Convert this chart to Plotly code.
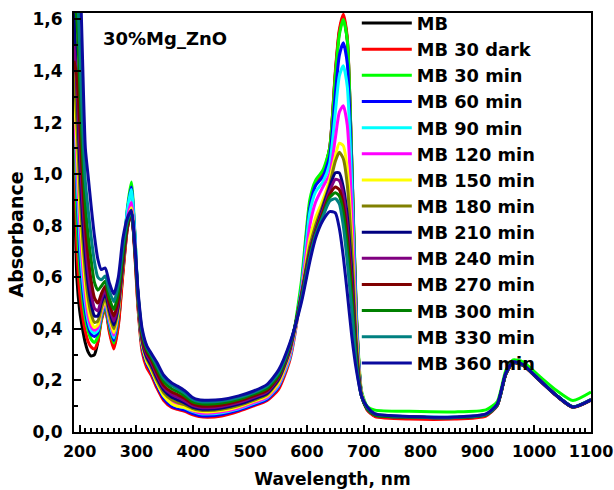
import plotly.graph_objects as go

# Wavelength grid (nm) shared by every spectrum
wavelength = [190, 195, 200, 205, 210, 215, 220, 226, 232, 238,
              245, 252, 260, 268, 276, 284, 291, 297, 303, 310,
              318, 326, 336, 348, 362, 372, 385, 398, 410, 425,
              450, 480, 505, 530, 550, 570, 590, 605, 615, 628,
              640, 650, 657, 664, 671, 679, 687, 696, 706, 720,
              780, 860, 915, 935, 950, 963, 980, 1010, 1040, 1068, 1100]

# Absorbance spectra of methylene blue over 30%Mg_ZnO
mb = [1.05, 0.60, 0.47, 0.40, 0.345, 0.31, 0.295, 0.30, 0.35, 0.44,
      0.48, 0.40, 0.33, 0.42, 0.62, 0.79, 0.85, 0.70, 0.48, 0.33,
      0.27, 0.24, 0.19, 0.14, 0.11, 0.10, 0.092, 0.08, 0.072, 0.07,
      0.075, 0.09, 0.11, 0.135, 0.18, 0.30, 0.56, 0.88, 0.96, 1.0,
      1.10, 1.39, 1.55, 1.61, 1.52, 1.04, 0.45, 0.15, 0.088, 0.062,
      0.057, 0.055, 0.065, 0.104, 0.224, 0.269, 0.259, 0.199, 0.139, 0.096, 0.124]
mb_30_dark = [1.25, 0.72, 0.54, 0.45, 0.39, 0.35, 0.33, 0.322, 0.35, 0.43,
              0.48, 0.39, 0.322, 0.41, 0.61, 0.79, 0.86, 0.69, 0.47, 0.31,
              0.25, 0.22, 0.17, 0.122, 0.095, 0.088, 0.08, 0.068, 0.06, 0.057,
              0.062, 0.08, 0.10, 0.122, 0.165, 0.28, 0.55, 0.88, 0.96, 1.0,
              1.10, 1.40, 1.56, 1.62, 1.53, 1.04, 0.45, 0.15, 0.085, 0.06,
              0.050, 0.050, 0.062, 0.102, 0.222, 0.268, 0.258, 0.198, 0.138, 0.095, 0.123]
mb_30_min = [1.55, 0.85, 0.64, 0.52, 0.44, 0.39, 0.36, 0.347, 0.37, 0.44,
             0.49, 0.41, 0.345, 0.45, 0.66, 0.87, 0.97, 0.78, 0.50, 0.33,
             0.27, 0.235, 0.185, 0.135, 0.105, 0.098, 0.09, 0.078, 0.07, 0.068,
             0.072, 0.088, 0.108, 0.13, 0.19, 0.31, 0.58, 0.90, 0.975, 1.015,
             1.10, 1.38, 1.54, 1.60, 1.52, 1.05, 0.47, 0.16, 0.10, 0.085,
             0.080, 0.078, 0.086, 0.118, 0.238, 0.280, 0.272, 0.215, 0.160, 0.122, 0.155]
mb_60_min = [1.5, 0.95, 0.70, 0.56, 0.47, 0.41, 0.38, 0.37, 0.385, 0.45,
             0.495, 0.42, 0.355, 0.46, 0.67, 0.86, 0.95, 0.77, 0.50, 0.33,
             0.265, 0.232, 0.18, 0.13, 0.10, 0.092, 0.085, 0.072, 0.064, 0.062,
             0.068, 0.085, 0.104, 0.127, 0.175, 0.29, 0.55, 0.87, 0.955, 0.99,
             1.07, 1.31, 1.46, 1.51, 1.43, 1.0, 0.44, 0.15, 0.09, 0.065,
             0.058, 0.056, 0.066, 0.105, 0.225, 0.270, 0.260, 0.200, 0.140, 0.097, 0.125]
mb_90_min = [1.37, 1.0, 0.76, 0.60, 0.50, 0.43, 0.395, 0.383, 0.395, 0.455,
             0.50, 0.43, 0.365, 0.47, 0.67, 0.86, 0.94, 0.77, 0.51, 0.34,
             0.275, 0.24, 0.19, 0.14, 0.11, 0.10, 0.093, 0.08, 0.072, 0.07,
             0.075, 0.09, 0.11, 0.132, 0.18, 0.29, 0.55, 0.85, 0.93, 0.97,
             1.04, 1.24, 1.38, 1.42, 1.34, 0.95, 0.42, 0.15, 0.09, 0.066,
             0.060, 0.058, 0.068, 0.106, 0.226, 0.271, 0.261, 0.202, 0.142, 0.099, 0.127]
mb_120_min = [1.3, 1.05, 0.82, 0.65, 0.53, 0.45, 0.41, 0.395, 0.405, 0.46,
              0.505, 0.44, 0.375, 0.47, 0.65, 0.83, 0.89, 0.74, 0.51, 0.345,
              0.28, 0.245, 0.195, 0.145, 0.115, 0.105, 0.097, 0.083, 0.075, 0.073,
              0.078, 0.093, 0.113, 0.135, 0.185, 0.30, 0.54, 0.80, 0.89, 0.95,
              1.0, 1.14, 1.24, 1.265, 1.19, 0.86, 0.40, 0.15, 0.09, 0.066,
              0.058, 0.056, 0.066, 0.105, 0.225, 0.270, 0.260, 0.200, 0.140, 0.097, 0.125]
mb_150_min = [1.35, 1.12, 0.88, 0.70, 0.57, 0.48, 0.43, 0.405, 0.415, 0.47,
              0.51, 0.45, 0.385, 0.47, 0.64, 0.81, 0.87, 0.72, 0.50, 0.34,
              0.275, 0.24, 0.19, 0.14, 0.11, 0.10, 0.095, 0.085, 0.08, 0.078,
              0.083, 0.098, 0.118, 0.14, 0.19, 0.31, 0.53, 0.75, 0.83, 0.90,
              0.98, 1.07, 1.12, 1.11, 1.02, 0.75, 0.37, 0.15, 0.09, 0.066,
              0.058, 0.056, 0.066, 0.105, 0.225, 0.270, 0.260, 0.200, 0.140, 0.097, 0.125]
mb_180_min = [1.4, 1.2, 0.95, 0.76, 0.62, 0.52, 0.46, 0.425, 0.43, 0.48,
              0.52, 0.46, 0.40, 0.48, 0.64, 0.80, 0.85, 0.71, 0.50, 0.35,
              0.285, 0.25, 0.20, 0.152, 0.125, 0.115, 0.105, 0.092, 0.085, 0.083,
              0.088, 0.103, 0.122, 0.145, 0.20, 0.315, 0.53, 0.72, 0.80, 0.88,
              0.96, 1.05, 1.085, 1.06, 0.96, 0.70, 0.35, 0.145, 0.09, 0.066,
              0.058, 0.056, 0.066, 0.105, 0.225, 0.270, 0.260, 0.200, 0.140, 0.097, 0.125]
mb_210_min = [1.65, 1.35, 1.05, 0.83, 0.68, 0.57, 0.50, 0.45, 0.45, 0.50,
              0.535, 0.475, 0.415, 0.49, 0.65, 0.80, 0.85, 0.71, 0.51, 0.355,
              0.29, 0.26, 0.21, 0.163, 0.135, 0.125, 0.112, 0.097, 0.09, 0.088,
              0.093, 0.108, 0.127, 0.15, 0.205, 0.32, 0.53, 0.70, 0.78, 0.87,
              0.95, 1.005, 1.005, 0.95, 0.84, 0.62, 0.32, 0.14, 0.09, 0.066,
              0.058, 0.056, 0.066, 0.105, 0.225, 0.270, 0.260, 0.200, 0.140, 0.097, 0.125]
mb_240_min = [1.5, 1.35, 1.12, 0.90, 0.74, 0.62, 0.54, 0.48, 0.47, 0.515,
              0.55, 0.49, 0.43, 0.50, 0.66, 0.80, 0.85, 0.715, 0.515, 0.36,
              0.30, 0.27, 0.22, 0.172, 0.145, 0.135, 0.12, 0.103, 0.096, 0.094,
              0.099, 0.114, 0.133, 0.156, 0.21, 0.325, 0.525, 0.695, 0.775, 0.86,
              0.935, 0.98, 0.975, 0.92, 0.80, 0.58, 0.30, 0.14, 0.09, 0.066,
              0.058, 0.056, 0.066, 0.105, 0.225, 0.270, 0.260, 0.200, 0.140, 0.097, 0.125]
mb_270_min = [1.44, 1.38, 1.2, 0.97, 0.80, 0.68, 0.59, 0.52, 0.50, 0.535,
              0.565, 0.50, 0.45, 0.515, 0.67, 0.80, 0.85, 0.715, 0.52, 0.37,
              0.31, 0.28, 0.23, 0.18, 0.155, 0.145, 0.13, 0.11, 0.102, 0.10,
              0.105, 0.12, 0.139, 0.162, 0.215, 0.33, 0.52, 0.69, 0.77, 0.85,
              0.92, 0.95, 0.94, 0.88, 0.76, 0.55, 0.29, 0.14, 0.09, 0.066,
              0.058, 0.056, 0.066, 0.105, 0.225, 0.270, 0.260, 0.200, 0.140, 0.097, 0.125]
mb_300_min = [1.7, 1.6, 1.35, 1.08, 0.88, 0.76, 0.67, 0.58, 0.55, 0.565,
              0.585, 0.52, 0.475, 0.54, 0.69, 0.81, 0.85, 0.72, 0.525, 0.38,
              0.32, 0.29, 0.245, 0.195, 0.168, 0.157, 0.14, 0.118, 0.11, 0.108,
              0.112, 0.127, 0.146, 0.17, 0.22, 0.335, 0.515, 0.68, 0.765, 0.84,
              0.91, 0.928, 0.915, 0.85, 0.72, 0.52, 0.28, 0.14, 0.09, 0.066,
              0.058, 0.056, 0.066, 0.105, 0.225, 0.270, 0.260, 0.200, 0.140, 0.097, 0.125]
mb_330_min = [2.1, 1.8, 1.5, 1.2, 0.97, 0.86, 0.76, 0.66, 0.60, 0.59,
              0.605, 0.55, 0.505, 0.57, 0.72, 0.82, 0.855, 0.725, 0.53, 0.39,
              0.33, 0.30, 0.258, 0.208, 0.18, 0.168, 0.15, 0.127, 0.118, 0.116,
              0.12, 0.134, 0.152, 0.178, 0.23, 0.34, 0.51, 0.675, 0.76, 0.835,
              0.895, 0.905, 0.885, 0.80, 0.66, 0.47, 0.26, 0.14, 0.095, 0.07,
              0.059, 0.057, 0.068, 0.106, 0.226, 0.271, 0.261, 0.200, 0.140, 0.097, 0.125]
mb_360_min = [2.6, 2.2, 1.85, 1.45, 1.10, 0.99, 0.88, 0.76, 0.67, 0.63,
              0.636, 0.58, 0.535, 0.60, 0.75, 0.83, 0.86, 0.73, 0.54, 0.40,
              0.335, 0.305, 0.27, 0.22, 0.19, 0.178, 0.16, 0.135, 0.125, 0.123,
              0.126, 0.14, 0.158, 0.185, 0.24, 0.345, 0.50, 0.66, 0.75, 0.82,
              0.855, 0.85, 0.79, 0.68, 0.54, 0.37, 0.24, 0.14, 0.098, 0.07,
              0.060, 0.058, 0.070, 0.108, 0.228, 0.272, 0.262, 0.200, 0.140, 0.097, 0.125]

series_names = ["MB", "MB 30 dark", "MB 30 min", "MB 60 min", "MB 90 min",
                "MB 120 min", "MB 150 min", "MB 180 min", "MB 210 min",
                "MB 240 min", "MB 270 min", "MB 300 min", "MB 330 min",
                "MB 360 min"]
series_values = [mb, mb_30_dark, mb_30_min, mb_60_min, mb_90_min,
                 mb_120_min, mb_150_min, mb_180_min, mb_210_min,
                 mb_240_min, mb_270_min, mb_300_min, mb_330_min,
                 mb_360_min]
series_colors = ["#000000", "#ff0000", "#00ff00", "#0000ff", "#00ffff",
                 "#ff00ff", "#ffff00", "#808000", "#000080", "#800080",
                 "#800000", "#008000", "#008080", "#0a0a9e"]

FONT = "DejaVu Sans, Liberation Sans, Arial, sans-serif"

fig = go.Figure()
for name, vals, color in zip(series_names, series_values, series_colors):
    fig.add_trace(go.Scatter(
        x=wavelength, y=vals, name=name, mode="lines",
        line=dict(color=color, width=3, shape="spline", smoothing=0.6),
    ))

axis_common = dict(
    showline=True, linecolor="black", linewidth=2, mirror=True,
    ticks="inside", tickcolor="black", tickwidth=2, ticklen=7,
    showgrid=False, zeroline=False, automargin=False,
)

fig.update_xaxes(
    range=[190, 1100], tick0=200, dtick=100,
    minor=dict(ticks="inside", dtick=10, ticklen=4, tickwidth=1.5,
               tickcolor="black", showgrid=False),
    title=dict(text="Wavelength, nm", standoff=13,
               font=dict(family=FONT, size=17, color="black", weight="bold")),
    tickfont=dict(family=FONT, size=16, color="black", weight="bold"),
    ticklabelstandoff=4,
    **axis_common,
)
fig.update_yaxes(
    range=[0, 1.625], tick0=0, dtick=0.2, tickformat=".1f",
    minor=dict(ticks="inside", dtick=0.1, ticklen=4, tickwidth=1.5,
               tickcolor="black", showgrid=False),
    tickfont=dict(family=FONT, size=17, color="black", weight="bold"),
    ticklabelstandoff=6,
    **axis_common,
)

# y-axis title placed as rotated text, slightly below the plot centre
fig.add_annotation(
    text="Absorbance", xref="paper", yref="paper",
    x=-0.113, y=(432 - 235) / 419, xanchor="center", yanchor="middle",
    textangle=-90, showarrow=False,
    font=dict(family=FONT, size=19, color="black", weight="bold"),
)

fig.add_annotation(
    text="30%Mg_ZnO", xref="paper", yref="paper", x=0.052, y=0.94,
    xanchor="left", yanchor="middle", showarrow=False,
    font=dict(family=FONT, size=18, color="black", weight="bold"),
)

fig.update_layout(
    width=614, height=490,
    margin=dict(l=74, r=23, t=13, b=58, autoexpand=False),
    paper_bgcolor="white", plot_bgcolor="white",
    separators=", ",
    showlegend=True,
    legend=dict(
        x=0.547, y=(432 - 381) / 419, xanchor="left", yanchor="bottom",
        bgcolor="rgba(0,0,0,0)", borderwidth=0,
        font=dict(family=FONT, size=17.8, color="black", weight="bold"),
        itemwidth=50, tracegroupgap=0,
    ),
)

fig.write_html("out.html")
